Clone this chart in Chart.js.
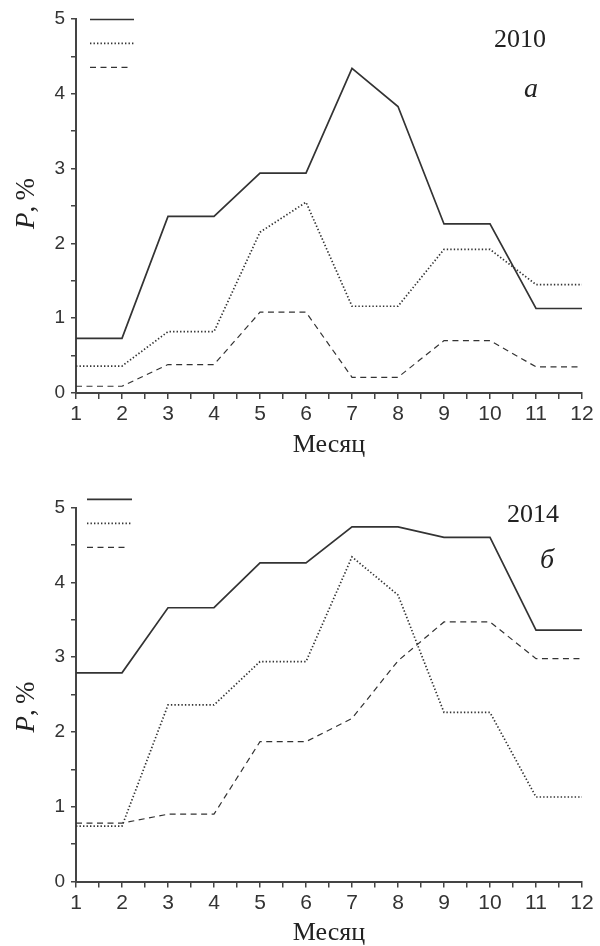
<!DOCTYPE html>
<html><head><meta charset="utf-8">
<script src="https://cdn.jsdelivr.net/npm/chart.js@4"></script>
<style>
html,body{margin:0;padding:0;background:#fff;overflow:hidden;width:600px;height:946px}
.box{position:absolute;left:0;width:600px;height:470px}
</style></head><body>
<div class="box" style="top:0"><canvas id="c1"></canvas></div>
<div class="box" style="top:476px"><canvas id="c2"></canvas></div>
<script>
// ---- data ----
const months = [1,2,3,4,5,6,7,8,9,10,11,12];
const xTickLabels = ['1','2','3','4','5','6','7','8','9','10','11','12'];
const yTickLabels = ['0','1','2','3','4','5'];
const solid2010  = [0.73,0.73,2.36,2.36,2.94,2.94,4.34,3.83,2.26,2.26,1.13,1.13];
const dotted2010 = [0.36,0.36,0.82,0.82,2.15,2.55,1.16,1.16,1.92,1.92,1.45,1.45];
const dashed2010 = [0.09,0.09,0.38,0.38,1.08,1.08,0.21,0.21,0.70,0.70,0.35,0.35];
const solid2014  = [2.79,2.79,3.66,3.66,4.26,4.26,4.74,4.74,4.60,4.60,3.36,3.36];
const dotted2014 = [0.74,0.74,2.36,2.36,2.94,2.94,4.34,3.83,2.26,2.26,1.13,1.13];
const dashed2014 = [0.78,0.78,0.90,0.90,1.87,1.87,2.18,2.95,3.47,3.47,2.98,2.98];
const years = ['2010','2014'];
const panelLetters = ['а','б'];
const xTitle = 'Месяц';

const LINE = '#333';
const TXT = '#222';

const annot = {
  id: 'annot',
  afterDraw(chart, args, o) {
    const ctx = chart.ctx;
    ctx.save();
    chart.data.datasets.forEach((ds, i) => {
      ctx.beginPath();
      ctx.strokeStyle = ds.borderColor;
      ctx.lineWidth = ds.borderWidth;
      ctx.setLineDash(ds.borderDash || []);
      ctx.moveTo(o.legX0, o.legY[i]);
      ctx.lineTo(o.legX1[i], o.legY[i]);
      ctx.stroke();
    });
    ctx.setLineDash([]);
    ctx.fillStyle = TXT;
    ctx.textAlign = 'left';
    ctx.textBaseline = 'alphabetic';
    ctx.font = '26px "Liberation Serif"';
    ctx.fillText(o.year, o.yearX, o.yearY);
    ctx.font = 'italic 28px "Liberation Serif"';
    ctx.fillText(o.letter, o.letX, o.letY);
    // y label "P, %"
    const fs = 27;
    ctx.font = 'italic ' + fs + 'px "Liberation Serif"';
    const wA = ctx.measureText('P').width;
    ctx.font = fs + 'px "Liberation Serif"';
    const partB = ',\u2009%';
    const wB = ctx.measureText(partB).width;
    const tot = wA + wB;
    ctx.translate(o.ylabX, o.ylabY);
    ctx.rotate(-Math.PI / 2);
    ctx.font = 'italic ' + fs + 'px "Liberation Serif"';
    ctx.fillText('P', -tot / 2, 0);
    ctx.font = fs + 'px "Liberation Serif"';
    ctx.fillText(partB, -tot / 2 + wA, 0);
    ctx.restore();
  }
};

function makeChart(id, series, cfg) {
  const mk = (vals) => months.map((m, i) => ({x: m, y: vals[i]}));
  return new Chart(document.getElementById(id), {
    type: 'line',
    data: {
      datasets: [
        {data: mk(series[0]), borderColor: LINE, borderWidth: 1.7, borderDash: [], pointRadius: 0, tension: 0, fill: false},
        {data: mk(series[1]), borderColor: LINE, borderWidth: 1.7, borderDash: [1.4, 2.1], pointRadius: 0, tension: 0, fill: false},
        {data: mk(series[2]), borderColor: LINE, borderWidth: 1.2, borderDash: [6, 4.5], pointRadius: 0, tension: 0, fill: false}
      ]
    },
    options: {
      responsive: true,
      maintainAspectRatio: false,
      animation: false,
      events: [],
      layout: {padding: {top: cfg.padTop, right: 18, left: 0, bottom: 0}},
      plugins: {legend: {display: false}, tooltip: {enabled: false}, annot: cfg.annot},
      scales: {
        x: {
          type: 'linear', min: 1, max: 12,
          afterFit: (s) => { s.height = cfg.xAxisH; },
          border: {display: true, color: '#444', width: 2},
          grid: {display: true, drawOnChartArea: false, drawTicks: true, tickLength: 6, color: '#444', lineWidth: 1.5},
          ticks: {
            stepSize: 0.5, autoSkip: false, maxRotation: 0, padding: 3, color: '#333',
            font: {family: 'Liberation Sans', size: 21},
            callback: (v) => Number.isInteger(v) ? xTickLabels[v - 1] : ''
          },
          title: {display: true, text: xTitle, color: TXT,
            font: {family: 'Liberation Serif', size: 26, lineHeight: 1},
            padding: {top: 0, bottom: cfg.titlePad}}
        },
        y: {
          min: 0, max: 5,
          afterFit: (s) => { s.width = 76; },
          border: {display: true, color: '#444', width: 2},
          grid: {display: true, drawOnChartArea: false, drawTicks: true, tickLength: 5, color: '#444', lineWidth: 1.5},
          ticks: {
            stepSize: 0.5, autoSkip: false, padding: 6, color: '#333',
            font: {family: 'Liberation Sans', size: 19},
            callback: (v) => Number.isInteger(v) ? yTickLabels[v] : ''
          }
        }
      }
    },
    plugins: [annot]
  });
}

makeChart('c1', [solid2010, dotted2010, dashed2010], {
  padTop: 19, xAxisH: 77, titlePad: 12,
  annot: {legX0: 90, legX1: [134, 134, 132], legY: [19.5, 43.3, 67.3],
    year: years[0], yearX: 494, yearY: 47, letter: panelLetters[0], letX: 524, letY: 97,
    ylabX: 34, ylabY: 203.5}
});
makeChart('c2', [solid2014, dotted2014, dashed2014], {
  padTop: 31.5, xAxisH: 64.5, titlePad: 0,
  annot: {legX0: 87, legX1: [132, 132, 128], legY: [23.3, 47.3, 71.3],
    year: years[1], yearX: 507, yearY: 45.7, letter: panelLetters[1], letX: 540, letY: 92,
    ylabX: 34, ylabY: 231}
});
</script>
</body></html>
